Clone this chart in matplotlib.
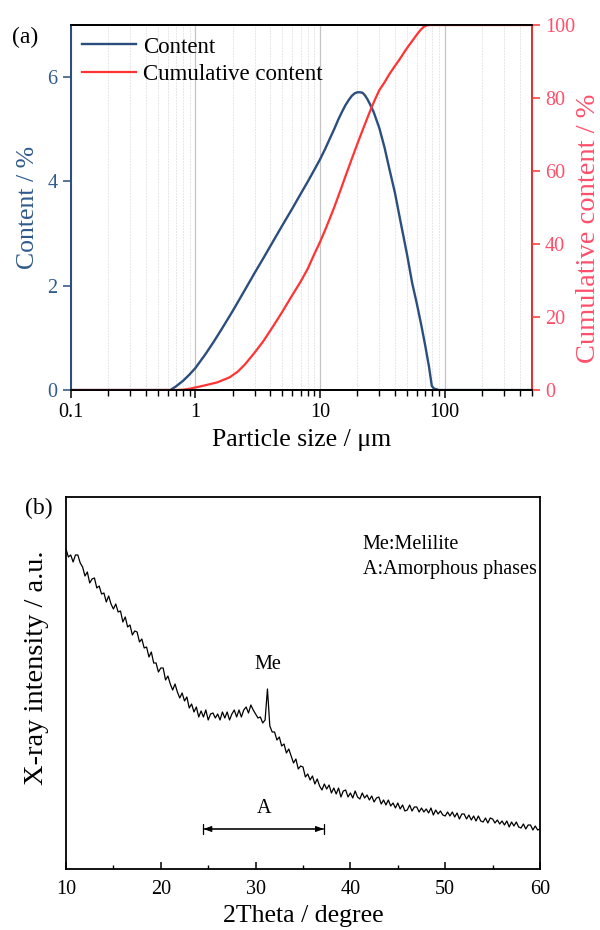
import matplotlib
matplotlib.use("Agg")
import matplotlib.pyplot as plt
import numpy as np
from matplotlib.ticker import LogLocator, NullFormatter, MultipleLocator

plt.rcParams["font.family"] = ["Liberation Serif", "DejaVu Serif"]

# (a) particle size distribution
size_um = [0.1, 0.3, 0.5, 0.63, 0.7, 0.8, 0.9, 1.0, 1.2, 1.4, 1.6, 1.8, 2.0, 2.5,
           3.0, 3.5, 4.0, 5.0, 6.0, 7.0, 8.0, 9.0, 10, 11, 12, 13, 14, 15, 16,
           17, 18, 19, 20, 21, 22, 23, 24, 25, 27, 30, 33, 36, 40, 44, 50, 55,
           60, 65, 70, 75, 79, 82, 90, 100, 200, 500]
content = [0, 0, 0, 0, 0.07, 0.18, 0.3, 0.42, 0.68, 0.92, 1.14, 1.34, 1.52, 1.92,
           2.25, 2.52, 2.76, 3.16, 3.48, 3.76, 4.0, 4.22, 4.42, 4.62, 4.82, 5.0,
           5.18, 5.33, 5.46, 5.56, 5.64, 5.69, 5.71, 5.71, 5.7, 5.65, 5.58, 5.5,
           5.33, 5.02, 4.65, 4.25, 3.78, 3.27, 2.6, 2.05, 1.65, 1.25, 0.85, 0.45,
           0.08, 0.03, 0, 0, 0, 0]
cum_size = [0.1, 0.5, 0.7, 0.8, 0.9, 1.0, 1.2, 1.5, 1.89, 2.2, 2.5, 2.73, 3.0,
            3.5, 4.0, 4.5, 5.0, 6.0, 7.0, 8.0, 9.0, 10, 11, 12, 13, 14, 15, 16,
            18, 20, 22, 24, 26, 28, 30, 33, 36, 40, 44, 48, 52, 56, 60, 64, 68,
            72, 76, 100, 500]
cumulative = [0, 0, 0, 0.1, 0.35, 0.7, 1.3, 2.1, 3.5, 5.1, 7.0, 8.6, 10.3, 13.3,
              16.3, 19.0, 21.5, 26.0, 29.7, 33.3, 37.2, 40.5, 43.8, 47.0, 50.0,
              53.0, 55.8, 58.5, 63.3, 67.5, 71.2, 74.5, 77.5, 80.0, 82.2, 84.3,
              86.5, 88.8, 90.8, 92.8, 94.5, 96.0, 97.4, 98.6, 99.5, 99.9, 100,
              100, 100]

# (b) XRD pattern, 2theta from 10 to 60 in 0.25 deg steps (arbitrary units)
two_theta = np.arange(10, 60.01, 0.25)
intensity = [
    320, 312, 314, 307, 314, 314, 306, 302,
    293, 297, 286, 290, 291, 281, 283, 275,
    276, 267, 273, 265, 260, 265, 257, 258,
    247, 252, 242, 244, 234, 238, 237, 227,
    230, 221, 222, 212, 217, 206, 206, 197,
    201, 201, 189, 193, 185, 179, 185, 177,
    171, 176, 168, 172, 161, 165, 157, 162,
    152, 158, 152, 159, 149, 155, 156, 151,
    155, 149, 157, 151, 157, 149, 155, 159,
    152, 159, 152, 159, 162, 156, 164, 159,
    155, 151, 152, 146, 149, 180, 143, 137,
    137, 129, 132, 123, 125, 116, 120, 113,
    106, 110, 100, 103, 102, 92, 95, 89,
    93, 85, 90, 83, 79, 85, 80, 84,
    76, 81, 75, 81, 72, 78, 79, 72,
    76, 71, 78, 72, 70, 76, 71, 74,
    69, 73, 67, 71, 72, 65, 69, 64,
    69, 63, 66, 61, 66, 60, 64, 58,
    59, 64, 58, 62, 62, 57, 61, 57,
    60, 56, 61, 54, 59, 55, 58, 54,
    53, 57, 53, 57, 52, 56, 50, 55,
    55, 50, 54, 49, 53, 48, 53, 48,
    47, 51, 46, 51, 50, 46, 49, 45,
    48, 44, 48, 42, 47, 43, 47, 42,
    41, 45, 40, 44, 44, 39, 43, 39,
    40,
]

BLUE = "#2b4e7e"
BLUE_TXT = "#2f5b8c"
RED = "#ff3333"
RED_TXT = "#ff4f6a"

fig = plt.figure(figsize=(6, 9.3), dpi=100)

# ---- panel (a)
ax = fig.add_axes([0.1178, 0.5806, 0.7683, 0.3925])
ax2 = ax.twinx()

ln1, = ax.plot(size_um, content, color=BLUE, lw=1.7, label="Content")
ln2, = ax2.plot(cum_size, cumulative, color=RED, lw=1.6, label="Cumulative content")

ax.set_xscale("log")
ax.set_xlim(0.1, 500)
ax.set_ylim(0, 7)
ax2.set_ylim(0, 100)
ax.set_xticks([0.1, 1, 10, 100])
ax.set_xticklabels(["0.1", "1", "10", "100"])
ax.xaxis.set_minor_locator(LogLocator(base=10, subs=np.arange(2, 10)))
ax.xaxis.set_minor_formatter(NullFormatter())
ax.set_yticks([0, 2, 4, 6])
ax2.set_yticks([0, 20, 40, 60, 80, 100])

ax.grid(True, which="major", axis="x", color="#c4c4c4", lw=0.9)
ax.grid(True, which="minor", axis="x", color="#e6e6e6", lw=0.7, ls=(0, (2, 1)))

ax.tick_params(axis="x", which="major", direction="out", length=6, width=1.1,
               labelsize=14.5, colors="black")
ax.tick_params(axis="x", which="minor", direction="out", length=4, width=1.0)
ax.tick_params(axis="y", direction="out", length=6, width=1.1, colors=BLUE,
               labelcolor=BLUE_TXT, labelsize=14.5)
ax2.tick_params(axis="y", direction="out", length=6, width=1.1, colors=RED,
                labelcolor=RED_TXT, labelsize=14.5)

for a in (ax, ax2):
    for s in a.spines.values():
        s.set_linewidth(1.3)
ax2.spines["left"].set_color(BLUE)
ax2.spines["right"].set_color(RED)
ax.spines["left"].set_color(BLUE)

ax.set_xlabel("Particle size / μm", fontsize=18.5, labelpad=5)
ax.set_ylabel("Content / %", fontsize=18.5, color=BLUE_TXT, labelpad=6)
ax2.set_ylabel("Cumulative content / %", fontsize=20.5, color=RED_TXT)
ax2.yaxis.set_label_coords(1.096, 0.442)

ax2.legend([ln1, ln2], ["Content", "Cumulative content"], loc="upper left",
           frameon=False, fontsize=16.5, handlelength=2.35, handletextpad=0.3,
           labelspacing=0.3, borderaxespad=0.1, borderpad=0.4)

fig.text(25.5 / 600, 1 - 37 / 930, "(a)", fontsize=17, ha="center", va="center")

# ---- panel (b)
bx = fig.add_axes([0.11, 0.0656, 0.79, 0.4])
bx.plot(two_theta, intensity, color="black", lw=0.9)
bx.set_xlim(10, 60)
bx.set_ylim(0, 372)
bx.set_yticks([])
bx.xaxis.set_major_locator(MultipleLocator(10))
bx.xaxis.set_minor_locator(MultipleLocator(5))
bx.tick_params(axis="x", which="major", direction="in", length=5, width=1.1,
               labelsize=14.5, pad=8)
bx.tick_params(axis="x", which="minor", direction="in", length=3, width=1.0)
for s in bx.spines.values():
    s.set_linewidth(1.3)

bx.set_xlabel("2Theta / degree", fontsize=18.5, labelpad=4)
bx.set_ylabel("X-ray intensity / a.u.", fontsize=20.5)
bx.yaxis.set_label_coords(-0.035, 0.54)

bx.text(41.3, 324, "Me:Melilite", fontsize=14.5, ha="left", va="center")
bx.text(41.3, 299, "A:Amorphous phases", fontsize=14.5, ha="left", va="center")
bx.text(31.3, 204, "Me", fontsize=14.5, ha="center", va="center")
bx.text(30.9, 60, "A", fontsize=14.5, ha="center", va="center")
bx.annotate("", xy=(24.5, 40), xytext=(37.2, 40),
            arrowprops=dict(arrowstyle="<|-|>,head_length=0.5,head_width=0.18",
                            lw=0.7, color="black", shrinkA=0, shrinkB=0))
bx.annotate("", xy=(24.5, 40), xytext=(37.2, 40),
            arrowprops=dict(arrowstyle="|-|,widthA=0.35,widthB=0.35",
                            lw=0.9, color="black", shrinkA=0, shrinkB=0))

fig.text(38.5 / 600, 1 - 508 / 930, "(b)", fontsize=17, ha="center", va="center")

fig.savefig("out.png", dpi=100)
